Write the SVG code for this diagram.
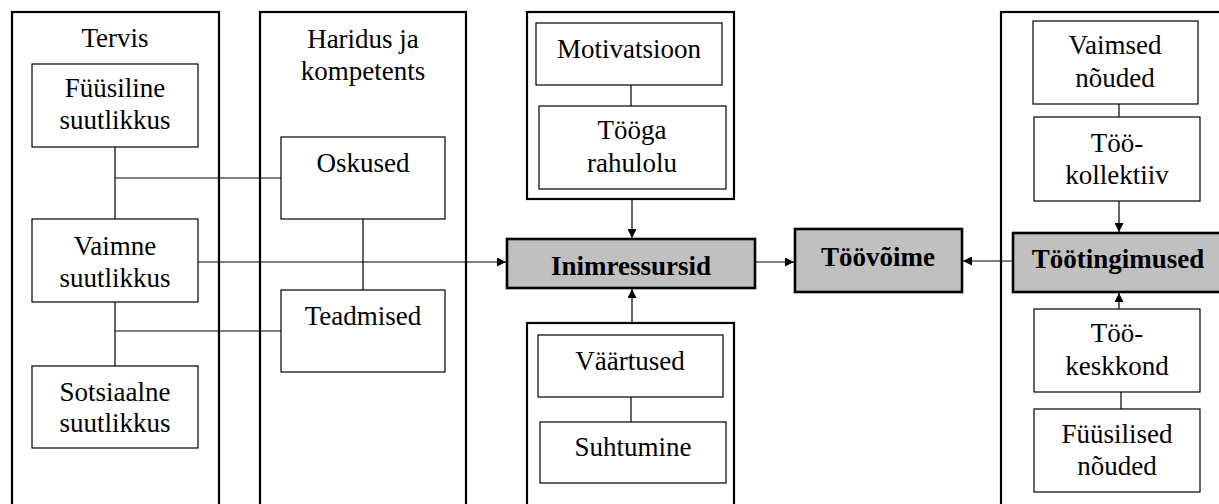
<svg xmlns="http://www.w3.org/2000/svg" width="1219" height="504" viewBox="0 0 1219 504">
<style>
.outer{fill:none;stroke:#000;stroke-width:2.2}
.box{fill:#fff;stroke:#000;stroke-width:1.2}
.key{fill:#c0c0c0;stroke:#000;stroke-width:2.6}
.ln{fill:none;stroke:#000;stroke-width:1.2}
.b{font-weight:bold}
.t{font-family:'Liberation Serif','Times New Roman','DejaVu Serif',serif;font-size:27px;text-anchor:middle;fill:#000}
</style>
<defs>
<marker id="ah" viewBox="0 0 10 10" refX="10" refY="5" markerWidth="10" markerHeight="9" markerUnits="userSpaceOnUse" orient="auto">
<path d="M0,0 L10,5 L0,10 z" fill="#000"/>
</marker>
</defs>
<rect width="1219" height="504" fill="#fff"/>

<g id="tervis">
<rect class="outer" x="12" y="12" width="207" height="520"/>
<text class="t" x="115" y="47">Tervis</text>
</g>
<g id="fyysiline">
<rect class="box" x="32" y="64" width="166" height="83"/>
<text class="t" x="115" y="97">Füüsiline</text>
<text class="t" x="115" y="129">suutlikkus</text>
</g>
<g id="vaimne">
<rect class="box" x="32" y="219" width="166" height="83"/>
<text class="t" x="115" y="255">Vaimne</text>
<text class="t" x="115" y="287">suutlikkus</text>
</g>
<g id="sotsiaalne">
<rect class="box" x="32" y="366" width="166" height="82"/>
<text class="t" x="115" y="401">Sotsiaalne</text>
<text class="t" x="115" y="432">suutlikkus</text>
</g>

<g id="haridus">
<rect class="outer" x="260" y="12" width="206" height="520"/>
<text class="t" x="363" y="48">Haridus ja</text>
<text class="t" x="363" y="80">kompetents</text>
</g>
<g id="oskused">
<rect class="box" x="281" y="137" width="164" height="82"/>
<text class="t" x="363" y="172">Oskused</text>
</g>
<g id="teadmised">
<rect class="box" x="281" y="290" width="164" height="82"/>
<text class="t" x="363" y="325">Teadmised</text>
</g>

<g id="motivatsioon-grupp">
<rect class="outer" x="527" y="12" width="207" height="187"/>
</g>
<g id="motivatsioon">
<rect class="box" x="536" y="23" width="186" height="62"/>
<text class="t" x="629" y="58">Motivatsioon</text>
</g>
<g id="tooga-rahulolu">
<rect class="box" x="539" y="106" width="187" height="83"/>
<text class="t" x="632" y="139">Tööga</text>
<text class="t" x="632" y="172">rahulolu</text>
</g>

<g id="inimressursid">
<rect class="key" x="507" y="239" width="248" height="49"/>
<text class="t b" x="631" y="275">Inimressursid</text>
</g>

<g id="vaartused-grupp">
<rect class="outer" x="527" y="323" width="207" height="200"/>
</g>
<g id="vaartused">
<rect class="box" x="538" y="335" width="185" height="62"/>
<text class="t" x="630" y="370">Väärtused</text>
</g>
<g id="suhtumine">
<rect class="box" x="540" y="422" width="186" height="61"/>
<text class="t" x="633" y="456">Suhtumine</text>
</g>

<g id="toovoime">
<rect class="key" x="795" y="229" width="167" height="63"/>
<text class="t b" x="878" y="266">Töövõime</text>
</g>

<g id="tootingimused-grupp">
<rect class="outer" x="1001" y="12" width="240" height="520"/>
</g>
<g id="vaimsed-nouded">
<rect class="box" x="1033" y="21" width="165" height="83"/>
<text class="t" x="1115" y="54">Vaimsed</text>
<text class="t" x="1115" y="87">nõuded</text>
</g>
<g id="töökollektiiv">
<rect class="box" x="1034" y="117" width="166" height="84"/>
<text class="t" x="1117" y="152">Töö-</text>
<text class="t" x="1117" y="184">kollektiiv</text>
</g>
<g id="tootingimused">
<rect class="key" x="1013" y="233" width="220" height="59"/>
<text class="t b" x="1118" y="268">Töötingimused</text>
</g>
<g id="töökeskkond">
<rect class="box" x="1034" y="309" width="166" height="83"/>
<text class="t" x="1117" y="342">Töö-</text>
<text class="t" x="1117" y="375">keskkond</text>
</g>
<g id="fyysilised-nouded">
<rect class="box" x="1034" y="409" width="166" height="83"/>
<text class="t" x="1117" y="443">Füüsilised</text>
<text class="t" x="1117" y="475">nõuded</text>
</g>

<g id="connectors">
<path class="ln" d="M115,147 V219"/>
<path class="ln" d="M115,302 V366"/>
<path class="ln" d="M115,178 H281"/>
<path class="ln" d="M115,331 H281"/>
<path class="ln" d="M363,219 V290"/>
<path class="ln" d="M198,262 H506" marker-end="url(#ah)"/>
<path class="ln" d="M631,85 V106"/>
<path class="ln" d="M632,199 V238" marker-end="url(#ah)"/>
<path class="ln" d="M632,323 V289" marker-end="url(#ah)"/>
<path class="ln" d="M631,397 V422"/>
<path class="ln" d="M755,262 H794" marker-end="url(#ah)"/>
<path class="ln" d="M1013,261 H963" marker-end="url(#ah)"/>
<path class="ln" d="M1119,104 V117"/>
<path class="ln" d="M1119,201 V232" marker-end="url(#ah)"/>
<path class="ln" d="M1119,309 V293" marker-end="url(#ah)"/>
<path class="ln" d="M1121,392 V409"/>
</g>
</svg>
